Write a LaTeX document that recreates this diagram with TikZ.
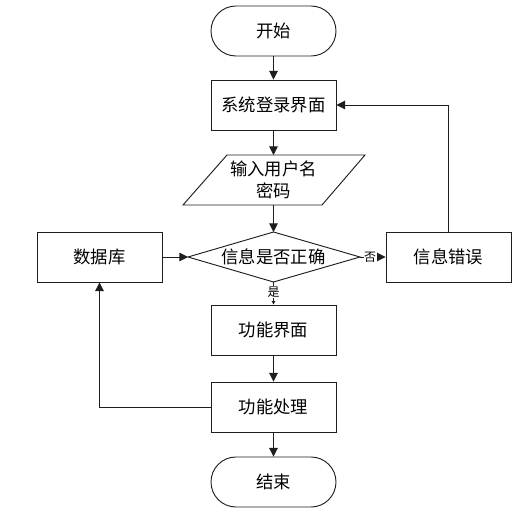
\documentclass[tikz,border=0pt]{standalone}
\usepackage{fontspec}
\newfontfamily\cjk{Noto Sans CJK SC}
\usetikzlibrary{arrows.meta}
\definecolor{lc}{RGB}{30,30,30}
\begin{document}
\begin{tikzpicture}[x=0.75pt,y=-0.75pt, line width=0.7pt,
  font=\cjk\fontsize{13}{16.5}\selectfont,
  box/.style={draw=lc, minimum width=93.75pt, minimum height=37.5pt, inner sep=0pt},
  term/.style={box, rounded corners=18.7pt},
  arr/.style={draw=lc, -{Triangle[length=6.5pt,width=6.5pt]}},
  arrs/.style={draw=lc, -{Triangle[length=2.5pt,width=2.5pt]}},
  lbl/.style={fill=white, inner sep=0.5pt, font=\cjk\fontsize{9}{10}\selectfont}]
\useasboundingbox (0,0) rectangle (522,517);
% nodes
\node[term] (start) at (273.5,31) {开始};
\node[box] (login) at (273.5,105) {系统登录界面};
\coordinate (p1) at (227,155);
\coordinate (p2) at (365,155);
\coordinate (p3) at (322,205);
\coordinate (p4) at (183,205);
\draw[lc] (p1) -- (p2) -- (p3) -- (p4) -- cycle;
\coordinate (inTop) at (273.5,155);
\coordinate (inBot) at (273.5,205);
\node[align=center, inner sep=0pt] (input) at (273.5,180) {输入用户名\\密码};
\coordinate (dT) at (273.5,232);
\coordinate (dL) at (188,257);
\coordinate (dR) at (360,257);
\coordinate (dB) at (273.5,282);
\draw[lc] (dT) -- (dR) -- (dB) -- (dL) -- cycle;
\node[inner sep=0pt] (check) at (273.5,257) {信息是否正确};
\node[box] (db) at (99.5,257) {数据库};
\node[box] (err) at (448.5,257) {信息错误};
\node[box] (func) at (273.5,330) {功能界面};
\node[box] (proc) at (273.5,407) {功能处理};
\node[term] (end) at (273.5,482) {结束};
% connectors
\draw[arr] (start.south) -- (login.north);
\draw[arr] (login.south) -- (inTop);
\draw[arr] (inBot) -- (dT);
\draw[arr] (db.east) -- (dL);
\draw[arr] (dR) -- (err.west) node[lbl, pos=0.4] {否};
\draw[arrs] (dB) -- (func.north) node[lbl, pos=0.45] {是};
\draw[arr] (func.south) -- (proc.north);
\draw[arr] (proc.south) -- (end.north);
\draw[arr] (proc.west) -| (db.south);
\draw[arr] (err.north) |- (login.east);
\end{tikzpicture}
\end{document}
